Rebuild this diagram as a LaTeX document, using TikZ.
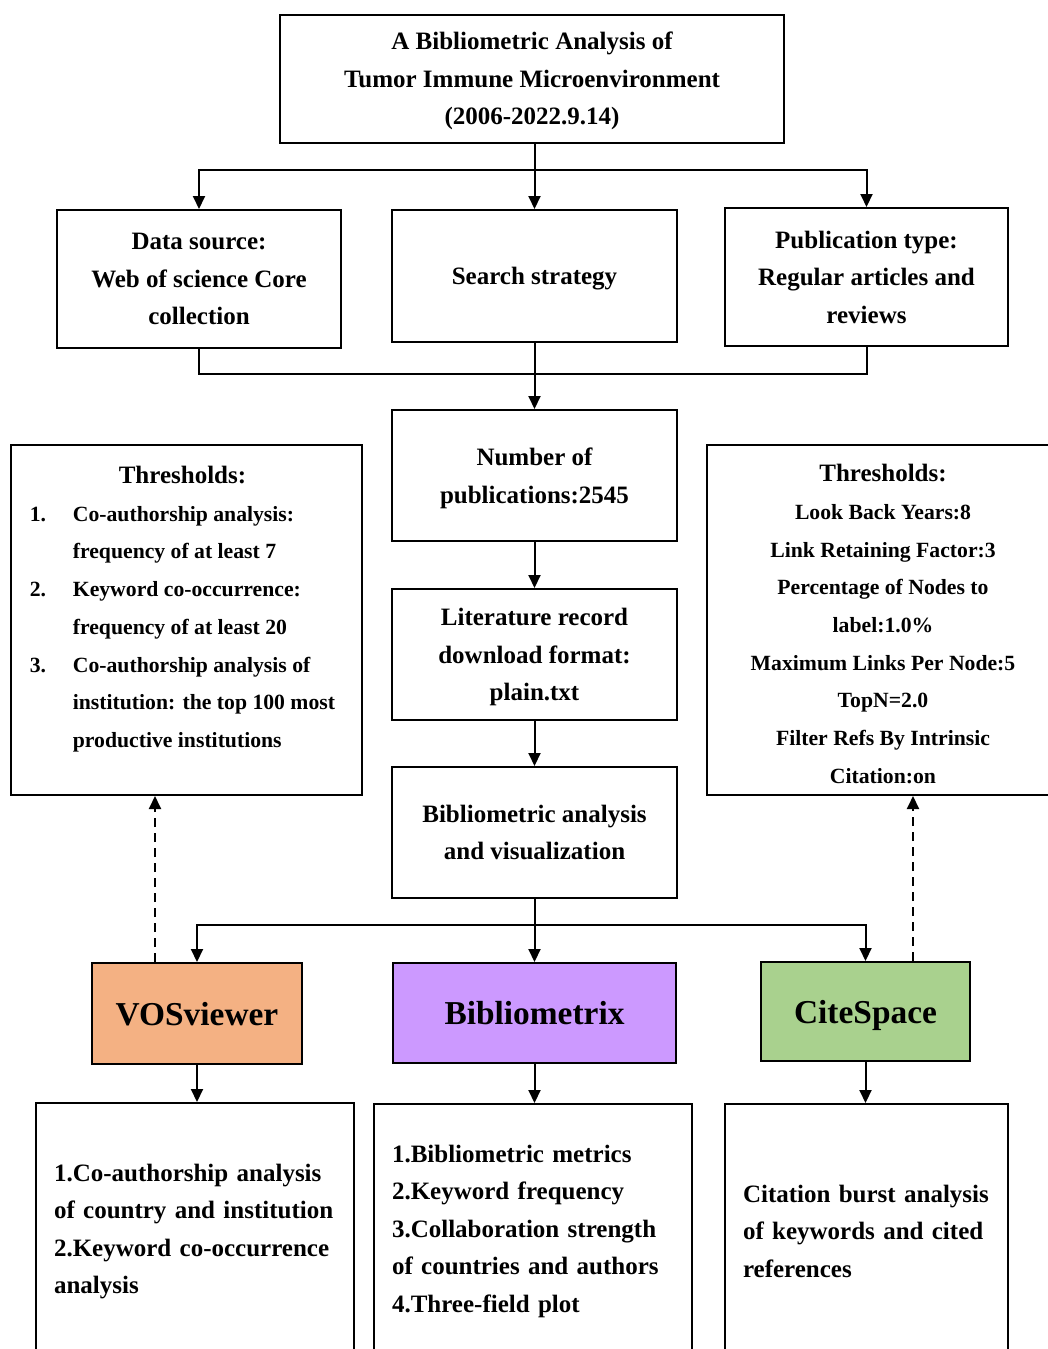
\documentclass[tikz,border=0pt]{standalone}
\usepackage{fontspec}
\setmainfont{Liberation Serif}
\usetikzlibrary{arrows.meta}

\definecolor{vosorange}{HTML}{F4B183}
\definecolor{bixpurple}{HTML}{CC99FF}
\definecolor{citegreen}{HTML}{A9D18E}

\begin{document}
\begin{tikzpicture}[x=1pt,y=-1pt,
  frame/.style={draw,line width=2pt,inner sep=0pt},
  box/.style={frame,align=center,text depth=0pt,
    font=\fontsize{25}{37.5}\selectfont\bfseries},
  small/.style={font=\fontsize{21.7}{37.7}\selectfont\bfseries},
  tool/.style={box,font=\fontsize{33.4}{40}\selectfont\bfseries},
  result/.style={frame,align=left,inner xsep=18pt,
    font=\fontsize{25}{37.5}\selectfont\bfseries},
  arr/.style={line width=2pt,-{Triangle[length=13pt,width=12pt]}},
  dasharr/.style={arr,dash pattern=on 9pt off 6pt}]

\clip (0,0) rectangle (1048,1349);

% top part
\node[box,minimum width=504pt,minimum height=128pt] (title) at (532,78.5) {A Bibliometric Analysis of\\Tumor Immune Microenvironment\\(2006-2022.9.14)};
\node[box,minimum width=284pt,minimum height=138pt] (data) at (199,279) {Data source:\\Web of science Core\\collection};
\node[box,minimum width=285pt,minimum height=132pt] (search) at (534.5,276) {Search strategy};
\node[box,minimum width=283pt,minimum height=138pt] (pub) at (866.5,277) {Publication type:\\Regular articles and\\reviews};

% middle column
\node[box,minimum width=285pt,minimum height=131pt] (num) at (534.5,475.5) {Number of\\publications:2545};
\node[box,minimum width=285pt,minimum height=131pt] (lit) at (534.5,654.5) {Literature record\\download format:\\plain.txt};
\node[box,minimum width=285pt,minimum height=131pt] (bib) at (534.5,832.5) {Bibliometric analysis\\and visualization};

% thresholds
\node[frame,minimum width=351pt,minimum height=350pt] (thL) at (186.5,620) {};
\node[small] (thLtext) at ([xshift=-4pt,yshift=12pt]thL.center) {%
  \begin{tabular}{@{}p{43pt}@{}l@{}}
  \multicolumn{2}{c}{\fontsize{25}{37.5}\selectfont Thresholds:}\\
  1. & Co-authorship analysis:\\
     & frequency of at least 7\\
  2. & Keyword co-occurrence:\\
     & frequency of at least 20\\
  3. & Co-authorship analysis of\\
     & institution: the top 100 most\\
     & productive institutions
  \end{tabular}};
\node[frame,minimum width=352pt,minimum height=350pt] (thR) at (883,620) {};
\node[small,align=center] (thRtext) at ([yshift=-4pt]thR.center) {{\fontsize{25}{37.7}\selectfont Thresholds:}\\Look Back Years:8\\Link Retaining Factor:3\\Percentage of Nodes to\\label:1.0\%\\Maximum Links Per Node:5\\TopN=2.0\\Filter Refs By Intrinsic\\Citation:on};

% tools
\node[tool,fill=vosorange,minimum width=210pt,minimum height=101pt] (vos) at (197,1013.5) {VOSviewer};
\node[tool,fill=bixpurple,minimum width=283pt,minimum height=100pt] (bix) at (534.5,1013) {Bibliometrix};
\node[tool,fill=citegreen,minimum width=209pt,minimum height=99pt] (cite) at (865.5,1011.5) {CiteSpace};

% results
\node[result,text width=282pt,minimum height=257pt] (outV) at (195,1231.5) {1.Co-authorship analysis\\of country and institution\\2.Keyword co-occurrence\\analysis};
\node[result,text width=282pt,minimum height=254pt] (outB) at (533,1231) {1.Bibliometric metrics\\2.Keyword frequency\\3.Collaboration strength\\of countries and authors\\4.Three-field plot};
\node[result,text width=247pt,minimum height=254pt] (outC) at (866.5,1231) {Citation burst analysis\\of keywords and cited\\references};

% connectors
\coordinate (split1) at (534.5,170);
\coordinate (merge) at (534.5,374);
\coordinate (split2) at (534.5,925);
\draw[line width=2pt] (search.north |- title.south) -- (split1);
\draw[arr] (split1) -- (search.north);
\draw[arr] (split1) -| (data.north);
\draw[arr] (split1) -| (pub.north);
\draw[line width=2pt] (data.south) |- (merge) -| (pub.south);
\draw[arr] (search.south) -- (num.north);
\draw[arr] (num.south) -- (lit.north);
\draw[arr] (lit.south) -- (bib.north);
\draw[line width=2pt] (bib.south) -- (split2);
\draw[arr] (split2) -- (bix.north);
\draw[arr] (split2) -| (vos.north);
\draw[arr] (split2) -| (cite.north);
\draw[arr] (vos.south) -- (vos.south |- outV.north);
\draw[arr] (bix.south) -- (bix.south |- outB.north);
\draw[arr] (cite.south) -- (cite.south |- outC.north);

\coordinate (vosup) at ([xshift=-42pt]vos.north);
\coordinate (citeup) at ([xshift=47.5pt]cite.north);
\draw[dasharr] (vosup) -- (vosup |- thL.south);
\draw[dasharr] (citeup) -- (citeup |- thR.south);
\end{tikzpicture}
\end{document}
